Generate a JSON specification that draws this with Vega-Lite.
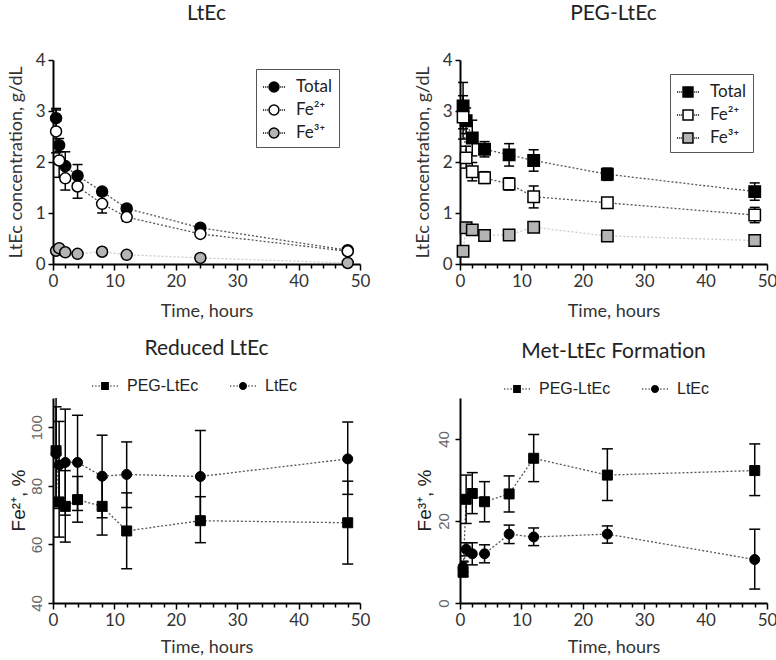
{
  "$schema": "https://vega.github.io/schema/vega-lite/v6.json",
  "padding": {"left": 6, "top": 3, "right": 5, "bottom": 5},
  "background": "white",
  "columns": 2,
  "spacing": {"row": 134, "column": 100},
  "bounds": "flush",
  "resolve": {
    "scale": {"fill": "independent", "shape": "independent", "x": "independent", "y": "independent"},
    "legend": {"fill": "independent", "shape": "independent"}
  },
  "datasets": {
    "ltec": [
      {"series": "Total", "t": 0.5, "v": 2.86, "lo": 2.66, "hi": 3.05},
      {"series": "Total", "t": 1, "v": 2.33, "lo": 2.20, "hi": 2.46},
      {"series": "Total", "t": 2, "v": 1.92, "lo": 1.72, "hi": 2.20},
      {"series": "Total", "t": 4, "v": 1.73, "lo": 1.51, "hi": 1.95},
      {"series": "Total", "t": 8, "v": 1.42, "lo": 1.36, "hi": 1.48},
      {"series": "Total", "t": 12, "v": 1.09, "lo": 1.04, "hi": 1.14},
      {"series": "Total", "t": 24, "v": 0.71, "lo": 0.68, "hi": 0.74},
      {"series": "Total", "t": 48, "v": 0.27, "lo": 0.24, "hi": 0.30},
      {"series": "Fe²⁺", "t": 0.5, "v": 2.60, "lo": 2.18, "hi": 3.02},
      {"series": "Fe²⁺", "t": 1, "v": 2.03, "lo": 1.70, "hi": 2.36},
      {"series": "Fe²⁺", "t": 2, "v": 1.68, "lo": 1.45, "hi": 1.91},
      {"series": "Fe²⁺", "t": 4, "v": 1.52, "lo": 1.29, "hi": 1.75},
      {"series": "Fe²⁺", "t": 8, "v": 1.18, "lo": 1.00, "hi": 1.36},
      {"series": "Fe²⁺", "t": 12, "v": 0.92, "lo": 0.84, "hi": 1.00},
      {"series": "Fe²⁺", "t": 24, "v": 0.59, "lo": 0.54, "hi": 0.64},
      {"series": "Fe²⁺", "t": 48, "v": 0.25, "lo": 0.23, "hi": 0.27},
      {"series": "Fe³⁺", "t": 0.5, "v": 0.26, "lo": 0.23, "hi": 0.29},
      {"series": "Fe³⁺", "t": 1, "v": 0.31, "lo": 0.27, "hi": 0.35},
      {"series": "Fe³⁺", "t": 2, "v": 0.23, "lo": 0.20, "hi": 0.26},
      {"series": "Fe³⁺", "t": 4, "v": 0.20, "lo": 0.17, "hi": 0.23},
      {"series": "Fe³⁺", "t": 8, "v": 0.24, "lo": 0.21, "hi": 0.27},
      {"series": "Fe³⁺", "t": 12, "v": 0.18, "lo": 0.15, "hi": 0.21},
      {"series": "Fe³⁺", "t": 24, "v": 0.12, "lo": 0.06, "hi": 0.18},
      {"series": "Fe³⁺", "t": 48, "v": 0.02, "lo": 0.01, "hi": 0.03}
    ],
    "peg": [
      {"series": "Total", "t": 0.5, "v": 3.10, "lo": 2.65, "hi": 3.56},
      {"series": "Total", "t": 1, "v": 2.81, "lo": 2.56, "hi": 3.06},
      {"series": "Total", "t": 2, "v": 2.47, "lo": 2.12, "hi": 2.82},
      {"series": "Total", "t": 4, "v": 2.25, "lo": 2.10, "hi": 2.40},
      {"series": "Total", "t": 8, "v": 2.14, "lo": 1.92, "hi": 2.36},
      {"series": "Total", "t": 12, "v": 2.03, "lo": 1.82, "hi": 2.24},
      {"series": "Total", "t": 24, "v": 1.76, "lo": 1.64, "hi": 1.88},
      {"series": "Total", "t": 48, "v": 1.42, "lo": 1.25, "hi": 1.59},
      {"series": "Fe²⁺", "t": 0.5, "v": 2.88, "lo": 2.45, "hi": 3.30},
      {"series": "Fe²⁺", "t": 1, "v": 2.08, "lo": 1.88, "hi": 2.31},
      {"series": "Fe²⁺", "t": 2, "v": 1.81, "lo": 1.63, "hi": 1.99},
      {"series": "Fe²⁺", "t": 4, "v": 1.69, "lo": 1.58, "hi": 1.81},
      {"series": "Fe²⁺", "t": 8, "v": 1.57, "lo": 1.45, "hi": 1.69},
      {"series": "Fe²⁺", "t": 12, "v": 1.32, "lo": 1.10, "hi": 1.53},
      {"series": "Fe²⁺", "t": 24, "v": 1.20, "lo": 1.13, "hi": 1.27},
      {"series": "Fe²⁺", "t": 48, "v": 0.96, "lo": 0.81, "hi": 1.11},
      {"series": "Fe³⁺", "t": 0.5, "v": 0.25, "lo": 0.20, "hi": 0.30},
      {"series": "Fe³⁺", "t": 1, "v": 0.71, "lo": 0.62, "hi": 0.81},
      {"series": "Fe³⁺", "t": 2, "v": 0.67, "lo": 0.62, "hi": 0.72},
      {"series": "Fe³⁺", "t": 4, "v": 0.56, "lo": 0.50, "hi": 0.62},
      {"series": "Fe³⁺", "t": 8, "v": 0.57, "lo": 0.53, "hi": 0.61},
      {"series": "Fe³⁺", "t": 12, "v": 0.72, "lo": 0.67, "hi": 0.77},
      {"series": "Fe³⁺", "t": 24, "v": 0.55, "lo": 0.50, "hi": 0.60},
      {"series": "Fe³⁺", "t": 48, "v": 0.46, "lo": 0.42, "hi": 0.50}
    ],
    "red": [
      {"series": "PEG-LtEc", "t": 0.5, "v": 92.0, "lo": 73.0, "hi": 112.0},
      {"series": "PEG-LtEc", "t": 1, "v": 74.5, "lo": 62.5, "hi": 86.5},
      {"series": "PEG-LtEc", "t": 2, "v": 73.0, "lo": 60.8, "hi": 85.2},
      {"series": "PEG-LtEc", "t": 4, "v": 75.3, "lo": 67.6, "hi": 83.2},
      {"series": "PEG-LtEc", "t": 8, "v": 73.0, "lo": 63.2, "hi": 82.8},
      {"series": "PEG-LtEc", "t": 12, "v": 64.6, "lo": 51.7, "hi": 77.6},
      {"series": "PEG-LtEc", "t": 24, "v": 68.1, "lo": 60.6, "hi": 76.3},
      {"series": "PEG-LtEc", "t": 48, "v": 67.4, "lo": 53.3, "hi": 81.6},
      {"series": "LtEc", "t": 0.5, "v": 91.0, "lo": 75.0, "hi": 107.0},
      {"series": "LtEc", "t": 1, "v": 87.1, "lo": 72.3, "hi": 102.0},
      {"series": "LtEc", "t": 2, "v": 88.0, "lo": 70.0, "hi": 106.2},
      {"series": "LtEc", "t": 4, "v": 88.0, "lo": 71.6, "hi": 104.1},
      {"series": "LtEc", "t": 8, "v": 83.3, "lo": 69.1, "hi": 97.3},
      {"series": "LtEc", "t": 12, "v": 83.9, "lo": 72.6, "hi": 95.0},
      {"series": "LtEc", "t": 24, "v": 83.2, "lo": 67.5, "hi": 98.9},
      {"series": "LtEc", "t": 48, "v": 89.2, "lo": 77.1, "hi": 101.8}
    ],
    "met": [
      {"series": "PEG-LtEc", "t": 0.5, "v": 7.5, "lo": 6.5, "hi": 10.0},
      {"series": "PEG-LtEc", "t": 1, "v": 25.3, "lo": 19.4, "hi": 31.2},
      {"series": "PEG-LtEc", "t": 2, "v": 26.7, "lo": 21.8, "hi": 31.8},
      {"series": "PEG-LtEc", "t": 4, "v": 24.7, "lo": 19.8, "hi": 29.6},
      {"series": "PEG-LtEc", "t": 8, "v": 26.6, "lo": 22.2, "hi": 31.0},
      {"series": "PEG-LtEc", "t": 12, "v": 35.3, "lo": 29.6, "hi": 41.1},
      {"series": "PEG-LtEc", "t": 24, "v": 31.2, "lo": 25.0, "hi": 37.6},
      {"series": "PEG-LtEc", "t": 48, "v": 32.3, "lo": 26.2, "hi": 38.8},
      {"series": "LtEc", "t": 0.5, "v": 8.8, "lo": 7.5, "hi": 10.2},
      {"series": "LtEc", "t": 1, "v": 13.1, "lo": 11.5, "hi": 14.7},
      {"series": "LtEc", "t": 2, "v": 12.0, "lo": 9.3, "hi": 14.7},
      {"series": "LtEc", "t": 4, "v": 12.0, "lo": 9.8, "hi": 14.2},
      {"series": "LtEc", "t": 8, "v": 16.8, "lo": 14.5, "hi": 19.0},
      {"series": "LtEc", "t": 12, "v": 16.1, "lo": 14.0, "hi": 18.3},
      {"series": "LtEc", "t": 24, "v": 16.8, "lo": 14.6, "hi": 18.8},
      {"series": "LtEc", "t": 48, "v": 10.6, "lo": 3.4, "hi": 18.0}
    ]
  },
  "concat": [
    {
      "width": 307, "height": 204,
      "title": {"text": "LtEc", "offset": 27},
      "data": {"name": "ltec"},
      "encoding": {
        "x": {"field": "t", "type": "quantitative", "scale": {"domain": [0, 50], "nice": false},
          "axis": {"title": "Time, hours", "values": [0,2,4,6,8,10,12,14,16,18,20,22,24,26,28,30,32,34,36,38,40,42,44,46,48,50], "labelExpr": "datum.value % 10 === 0 ? datum.label : ''", "labelOverlap": false, "labelFlush": false, "tickSize": {"condition": {"test": "datum.value % 10 === 0", "value": 6}, "value": 4}, "titleY": 47, "titleBaseline": "middle", "labelPadding": 3}}
      },
      "layer": [
        {
          "transform": [{"filter": "datum.series !== 'Fe³⁺'"}],
          "mark": {"type": "line", "strokeDash": [2, 2], "strokeWidth": 1.3, "color": "#555555"},
          "encoding": {
            "y": {"field": "v", "type": "quantitative", "scale": {"domain": [0, 4], "nice": false},
              "axis": {"title": "LtEc concentration, g/dL", "values": [0,1,2,3,4], "format": "d", "tickSize": 5, "labelPadding": 3, "titleX": -37, "titleY": 102, "titleBaseline": "middle", "titleAlign": "center"}},
            "detail": {"field": "series", "type": "nominal"}
          }
        },
        {
          "transform": [{"filter": "datum.series === 'Fe³⁺'"}],
          "mark": {"type": "line", "strokeDash": [2, 2], "strokeWidth": 1.3, "color": "#cccccc"},
          "encoding": {
            "y": {"field": "v", "type": "quantitative", "axis": {"title": "LtEc concentration, g/dL", "values": [0,1,2,3,4], "format": "d", "tickSize": 5, "labelPadding": 3, "titleX": -37, "titleY": 102, "titleBaseline": "middle", "titleAlign": "center"}}
          }
        },
        {
          "mark": {"type": "rule", "color": "black", "strokeWidth": 1.5},
          "encoding": {"y": {"field": "lo", "type": "quantitative", "axis": {"title": "LtEc concentration, g/dL", "values": [0,1,2,3,4], "format": "d", "tickSize": 5, "labelPadding": 3, "titleX": -37, "titleY": 102, "titleBaseline": "middle", "titleAlign": "center"}}, "y2": {"field": "hi"}}
        },
        {
          "mark": {"type": "tick", "orient": "horizontal", "color": "black", "thickness": 1.5, "size": 10, "opacity": 1},
          "encoding": {"y": {"field": "lo", "type": "quantitative", "axis": {"title": "LtEc concentration, g/dL", "values": [0,1,2,3,4], "format": "d", "tickSize": 5, "labelPadding": 3, "titleX": -37, "titleY": 102, "titleBaseline": "middle", "titleAlign": "center"}}}
        },
        {
          "mark": {"type": "tick", "orient": "horizontal", "color": "black", "thickness": 1.5, "size": 10, "opacity": 1},
          "encoding": {"y": {"field": "hi", "type": "quantitative", "axis": {"title": "LtEc concentration, g/dL", "values": [0,1,2,3,4], "format": "d", "tickSize": 5, "labelPadding": 3, "titleX": -37, "titleY": 102, "titleBaseline": "middle", "titleAlign": "center"}}}
        },
        {
          "mark": {"type": "point", "shape": "circle", "filled": true, "size": 121, "stroke": "black", "strokeWidth": 1.5, "opacity": 1},
          "encoding": {
            "y": {"field": "v", "type": "quantitative", "axis": {"title": "LtEc concentration, g/dL", "values": [0,1,2,3,4], "format": "d", "tickSize": 5, "labelPadding": 3, "titleX": -37, "titleY": 102, "titleBaseline": "middle", "titleAlign": "center"}},
            "fill": {"field": "series", "type": "nominal", "scale": {"domain": ["Total", "Fe²⁺", "Fe³⁺"], "range": ["black", "white", "#b4b4b4"]},
              "legend": {"title": null, "orient": "none", "legendX": 203, "legendY": 9, "symbolType": "M 0.45 0 C 0.45 0.2485 0.2485 0.45 0 0.45 C -0.2485 0.45 -0.45 0.2485 -0.45 0 C -0.45 -0.2485 -0.2485 -0.45 0 -0.45 C 0.2485 -0.45 0.45 -0.2485 0.45 0 Z M -1 0 L -0.9 0 M -0.8 0 L -0.7 0 M -0.62 0 L -0.55 0 M 0.55 0 L 0.62 0 M 0.7 0 L 0.8 0 M 0.9 0 L 1 0", "symbolSize": 484, "symbolStrokeColor": "black", "symbolStrokeWidth": 1.5, "strokeColor": "#555555", "padding": 6, "rowPadding": 3, "labelFont": "Lato", "labelFontSize": 17, "labelColor": "#222222", "labelOffset": 10}}
          }
        }
      ]
    },
    {
      "width": 307, "height": 204,
      "title": {"text": "PEG-LtEc", "offset": 27},
      "data": {"name": "peg"},
      "encoding": {
        "x": {"field": "t", "type": "quantitative", "scale": {"domain": [0, 50], "nice": false},
          "axis": {"title": "Time, hours", "values": [0,2,4,6,8,10,12,14,16,18,20,22,24,26,28,30,32,34,36,38,40,42,44,46,48,50], "labelExpr": "datum.value % 10 === 0 ? datum.label : ''", "labelOverlap": false, "labelFlush": false, "tickSize": {"condition": {"test": "datum.value % 10 === 0", "value": 6}, "value": 4}, "titleY": 47, "titleBaseline": "middle", "labelPadding": 3}}
      },
      "layer": [
        {
          "transform": [{"filter": "datum.series !== 'Fe³⁺'"}],
          "mark": {"type": "line", "strokeDash": [2, 2], "strokeWidth": 1.3, "color": "#555555"},
          "encoding": {
            "y": {"field": "v", "type": "quantitative", "scale": {"domain": [0, 4], "nice": false},
              "axis": {"title": "LtEc concentration, g/dL", "values": [0,1,2,3,4], "format": "d", "tickSize": 5, "labelPadding": 3, "titleX": -37, "titleY": 102, "titleBaseline": "middle", "titleAlign": "center"}},
            "detail": {"field": "series", "type": "nominal"}
          }
        },
        {
          "transform": [{"filter": "datum.series === 'Fe³⁺'"}],
          "mark": {"type": "line", "strokeDash": [2, 2], "strokeWidth": 1.3, "color": "#cccccc"},
          "encoding": {
            "y": {"field": "v", "type": "quantitative", "axis": {"title": "LtEc concentration, g/dL", "values": [0,1,2,3,4], "format": "d", "tickSize": 5, "labelPadding": 3, "titleX": -37, "titleY": 102, "titleBaseline": "middle", "titleAlign": "center"}}
          }
        },
        {
          "mark": {"type": "rule", "color": "black", "strokeWidth": 1.5},
          "encoding": {"y": {"field": "lo", "type": "quantitative", "axis": {"title": "LtEc concentration, g/dL", "values": [0,1,2,3,4], "format": "d", "tickSize": 5, "labelPadding": 3, "titleX": -37, "titleY": 102, "titleBaseline": "middle", "titleAlign": "center"}}, "y2": {"field": "hi"}}
        },
        {
          "mark": {"type": "tick", "orient": "horizontal", "color": "black", "thickness": 1.5, "size": 10, "opacity": 1},
          "encoding": {"y": {"field": "lo", "type": "quantitative", "axis": {"title": "LtEc concentration, g/dL", "values": [0,1,2,3,4], "format": "d", "tickSize": 5, "labelPadding": 3, "titleX": -37, "titleY": 102, "titleBaseline": "middle", "titleAlign": "center"}}}
        },
        {
          "mark": {"type": "tick", "orient": "horizontal", "color": "black", "thickness": 1.5, "size": 10, "opacity": 1},
          "encoding": {"y": {"field": "hi", "type": "quantitative", "axis": {"title": "LtEc concentration, g/dL", "values": [0,1,2,3,4], "format": "d", "tickSize": 5, "labelPadding": 3, "titleX": -37, "titleY": 102, "titleBaseline": "middle", "titleAlign": "center"}}}
        },
        {
          "mark": {"type": "point", "shape": "square", "filled": true, "size": 130, "stroke": "black", "strokeWidth": 1.5, "opacity": 1},
          "encoding": {
            "y": {"field": "v", "type": "quantitative", "axis": {"title": "LtEc concentration, g/dL", "values": [0,1,2,3,4], "format": "d", "tickSize": 5, "labelPadding": 3, "titleX": -37, "titleY": 102, "titleBaseline": "middle", "titleAlign": "center"}},
            "fill": {"field": "series", "type": "nominal", "scale": {"domain": ["Total", "Fe²⁺", "Fe³⁺"], "range": ["black", "white", "#b4b4b4"]},
              "legend": {"title": null, "orient": "none", "legendX": 210, "legendY": 14, "symbolType": "M -0.45 -0.45 L 0.45 -0.45 L 0.45 0.45 L -0.45 0.45 Z M -1 0 L -0.9 0 M -0.8 0 L -0.7 0 M -0.62 0 L -0.55 0 M 0.55 0 L 0.62 0 M 0.7 0 L 0.8 0 M 0.9 0 L 1 0", "symbolSize": 484, "symbolStrokeColor": "black", "symbolStrokeWidth": 1.5, "strokeColor": "#555555", "padding": 6, "rowPadding": 3, "labelFont": "Lato", "labelFontSize": 17, "labelColor": "#222222", "labelOffset": 10}}
          }
        }
      ]
    },
    {
      "width": 307, "height": 205,
      "title": {"text": "Reduced LtEc", "offset": 13},
      "data": {"name": "red"},
      "encoding": {
        "x": {"field": "t", "type": "quantitative", "scale": {"domain": [0, 50], "nice": false},
          "axis": {"title": "Time, hours", "values": [0,2,4,6,8,10,12,14,16,18,20,22,24,26,28,30,32,34,36,38,40,42,44,46,48,50], "labelExpr": "datum.value % 10 === 0 ? datum.label : ''", "labelOverlap": false, "labelFlush": false, "tickSize": {"condition": {"test": "datum.value % 10 === 0", "value": 6}, "value": 4}, "titleY": 44, "titleBaseline": "middle", "labelPadding": 3}}
      },
      "layer": [
        {
          "mark": {"type": "line", "strokeDash": [2, 2], "strokeWidth": 1.3, "color": "#555555"},
          "encoding": {
            "y": {"field": "v", "type": "quantitative", "scale": {"domain": [40, 110], "nice": false},
              "axis": {"title": "Fe²⁺, %", "values": [40,60,80,100], "tickSize": 5, "labelAngle": -90, "labelAlign": "center", "labelBaseline": "bottom", "labelFont": "Liberation Sans", "labelFontSize": 15, "labelColor": "#666666", "labelPadding": 4, "titleFont": "Liberation Sans", "titleFontSize": 19, "titleColor": "#222222", "titleX": -35, "titleY": 102, "titleBaseline": "middle", "titleAlign": "center"}},
            "detail": {"field": "series", "type": "nominal"}
          }
        },
        {
          "mark": {"type": "rule", "color": "black", "strokeWidth": 1.5, "clip": true},
          "encoding": {"y": {"field": "lo", "type": "quantitative", "axis": {"title": "Fe²⁺, %", "values": [40,60,80,100], "tickSize": 5, "labelAngle": -90, "labelAlign": "center", "labelBaseline": "bottom", "labelFont": "Liberation Sans", "labelFontSize": 15, "labelColor": "#666666", "labelPadding": 4, "titleFont": "Liberation Sans", "titleFontSize": 19, "titleColor": "#222222", "titleX": -35, "titleY": 102, "titleBaseline": "middle", "titleAlign": "center"}}, "y2": {"field": "hi"}}
        },
        {
          "mark": {"type": "tick", "orient": "horizontal", "color": "black", "thickness": 1.5, "size": 11, "opacity": 1, "clip": true},
          "encoding": {"y": {"field": "lo", "type": "quantitative", "axis": {"title": "Fe²⁺, %", "values": [40,60,80,100], "tickSize": 5, "labelAngle": -90, "labelAlign": "center", "labelBaseline": "bottom", "labelFont": "Liberation Sans", "labelFontSize": 15, "labelColor": "#666666", "labelPadding": 4, "titleFont": "Liberation Sans", "titleFontSize": 19, "titleColor": "#222222", "titleX": -35, "titleY": 102, "titleBaseline": "middle", "titleAlign": "center"}}}
        },
        {
          "mark": {"type": "tick", "orient": "horizontal", "color": "black", "thickness": 1.5, "size": 11, "opacity": 1, "clip": true},
          "encoding": {"y": {"field": "hi", "type": "quantitative", "axis": {"title": "Fe²⁺, %", "values": [40,60,80,100], "tickSize": 5, "labelAngle": -90, "labelAlign": "center", "labelBaseline": "bottom", "labelFont": "Liberation Sans", "labelFontSize": 15, "labelColor": "#666666", "labelPadding": 4, "titleFont": "Liberation Sans", "titleFontSize": 19, "titleColor": "#222222", "titleX": -35, "titleY": 102, "titleBaseline": "middle", "titleAlign": "center"}}}
        },
        {
          "transform": [{"filter": "datum.series === 'PEG-LtEc'"}],
          "mark": {"type": "point", "shape": "square", "filled": true, "size": 100, "fill": "black", "stroke": "black", "strokeWidth": 1, "opacity": 1},
          "encoding": {
            "y": {"field": "v", "type": "quantitative", "axis": {"title": "Fe²⁺, %", "values": [40,60,80,100], "tickSize": 5, "labelAngle": -90, "labelAlign": "center", "labelBaseline": "bottom", "labelFont": "Liberation Sans", "labelFontSize": 15, "labelColor": "#666666", "labelPadding": 4, "titleFont": "Liberation Sans", "titleFontSize": 19, "titleColor": "#222222", "titleX": -35, "titleY": 102, "titleBaseline": "middle", "titleAlign": "center"}}
          }
        },
        {
          "transform": [{"filter": "datum.series === 'LtEc'"}],
          "mark": {"type": "point", "shape": "circle", "filled": true, "size": 100, "fill": "black", "stroke": "black", "strokeWidth": 1, "opacity": 1},
          "encoding": {
            "y": {"field": "v", "type": "quantitative", "axis": {"title": "Fe²⁺, %", "values": [40,60,80,100], "tickSize": 5, "labelAngle": -90, "labelAlign": "center", "labelBaseline": "bottom", "labelFont": "Liberation Sans", "labelFontSize": 15, "labelColor": "#666666", "labelPadding": 4, "titleFont": "Liberation Sans", "titleFontSize": 19, "titleColor": "#222222", "titleX": -35, "titleY": 102, "titleBaseline": "middle", "titleAlign": "center"}}
          }
        },
        {
          "mark": {"type": "point", "filled": true, "size": 100, "fill": "black", "stroke": "black", "strokeWidth": 1.3, "opacity": 0},
          "encoding": {
            "y": {"field": "v", "type": "quantitative", "axis": {"title": "Fe²⁺, %", "values": [40,60,80,100], "tickSize": 5, "labelAngle": -90, "labelAlign": "center", "labelBaseline": "bottom", "labelFont": "Liberation Sans", "labelFontSize": 15, "labelColor": "#666666", "labelPadding": 4, "titleFont": "Liberation Sans", "titleFontSize": 19, "titleColor": "#222222", "titleX": -35, "titleY": 102, "titleBaseline": "middle", "titleAlign": "center"}},
            "shape": {"field": "series", "type": "nominal", "scale": {"domain": ["PEG-LtEc", "LtEc"], "range": ["M -0.3 -0.3 L 0.3 -0.3 L 0.3 0.3 L -0.3 0.3 Z M -1 -0.045 L -0.9 -0.045 L -0.9 0.045 L -1 0.045 Z M -0.75 -0.045 L -0.65 -0.045 L -0.65 0.045 L -0.75 0.045 Z M -0.5 -0.045 L -0.4 -0.045 L -0.4 0.045 L -0.5 0.045 Z M 0.4 -0.045 L 0.5 -0.045 L 0.5 0.045 L 0.4 0.045 Z M 0.65 -0.045 L 0.75 -0.045 L 0.75 0.045 L 0.65 0.045 Z M 0.9 -0.045 L 1 -0.045 L 1 0.045 L 0.9 0.045 Z", "M 0.31 0 C 0.31 0.171 0.171 0.31 0 0.31 C -0.171 0.31 -0.31 0.171 -0.31 0 C -0.31 -0.171 -0.171 -0.31 0 -0.31 C 0.171 -0.31 0.31 -0.171 0.31 0 Z M -1 -0.045 L -0.9 -0.045 L -0.9 0.045 L -1 0.045 Z M -0.75 -0.045 L -0.65 -0.045 L -0.65 0.045 L -0.75 0.045 Z M -0.5 -0.045 L -0.4 -0.045 L -0.4 0.045 L -0.5 0.045 Z M 0.4 -0.045 L 0.5 -0.045 L 0.5 0.045 L 0.4 0.045 Z M 0.65 -0.045 L 0.75 -0.045 L 0.75 0.045 L 0.65 0.045 Z M 0.9 -0.045 L 1 -0.045 L 1 0.045 L 0.9 0.045 Z"]},
              "legend": {"title": null, "orient": "none", "direction": "horizontal", "legendX": 38, "legendY": -26, "symbolSize": 676, "symbolOpacity": 1, "symbolFillColor": "black", "symbolStrokeColor": "#333333", "symbolStrokeWidth": 1.3, "padding": 0, "labelFont": "Liberation Sans", "labelFontSize": 16, "labelColor": "#222222", "labelOffset": 8, "columnPadding": 28}}
          }
        }
      ]
    },
    {
      "width": 307, "height": 205,
      "title": {"text": "Met-LtEc Formation", "offset": 13},
      "data": {"name": "met"},
      "encoding": {
        "x": {"field": "t", "type": "quantitative", "scale": {"domain": [0, 50], "nice": false},
          "axis": {"title": "Time, hours", "values": [0,2,4,6,8,10,12,14,16,18,20,22,24,26,28,30,32,34,36,38,40,42,44,46,48,50], "labelExpr": "datum.value % 10 === 0 ? datum.label : ''", "labelOverlap": false, "labelFlush": false, "tickSize": {"condition": {"test": "datum.value % 10 === 0", "value": 6}, "value": 4}, "titleY": 44, "titleBaseline": "middle", "labelPadding": 3}}
      },
      "layer": [
        {
          "mark": {"type": "line", "strokeDash": [2, 2], "strokeWidth": 1.3, "color": "#555555"},
          "encoding": {
            "y": {"field": "v", "type": "quantitative", "scale": {"domain": [0, 50], "nice": false},
              "axis": {"title": "Fe³⁺, %", "values": [0,20,40], "tickSize": 5, "labelAngle": -90, "labelAlign": "center", "labelBaseline": "bottom", "labelFont": "Liberation Sans", "labelFontSize": 15, "labelColor": "#666666", "labelPadding": 4, "titleFont": "Liberation Sans", "titleFontSize": 19, "titleColor": "#222222", "titleX": -36, "titleY": 102, "titleBaseline": "middle", "titleAlign": "center"}},
            "detail": {"field": "series", "type": "nominal"}
          }
        },
        {
          "mark": {"type": "rule", "color": "black", "strokeWidth": 1.5, "clip": true},
          "encoding": {"y": {"field": "lo", "type": "quantitative", "axis": {"title": "Fe³⁺, %", "values": [0,20,40], "tickSize": 5, "labelAngle": -90, "labelAlign": "center", "labelBaseline": "bottom", "labelFont": "Liberation Sans", "labelFontSize": 15, "labelColor": "#666666", "labelPadding": 4, "titleFont": "Liberation Sans", "titleFontSize": 19, "titleColor": "#222222", "titleX": -36, "titleY": 102, "titleBaseline": "middle", "titleAlign": "center"}}, "y2": {"field": "hi"}}
        },
        {
          "mark": {"type": "tick", "orient": "horizontal", "color": "black", "thickness": 1.5, "size": 11, "opacity": 1, "clip": true},
          "encoding": {"y": {"field": "lo", "type": "quantitative", "axis": {"title": "Fe³⁺, %", "values": [0,20,40], "tickSize": 5, "labelAngle": -90, "labelAlign": "center", "labelBaseline": "bottom", "labelFont": "Liberation Sans", "labelFontSize": 15, "labelColor": "#666666", "labelPadding": 4, "titleFont": "Liberation Sans", "titleFontSize": 19, "titleColor": "#222222", "titleX": -36, "titleY": 102, "titleBaseline": "middle", "titleAlign": "center"}}}
        },
        {
          "mark": {"type": "tick", "orient": "horizontal", "color": "black", "thickness": 1.5, "size": 11, "opacity": 1, "clip": true},
          "encoding": {"y": {"field": "hi", "type": "quantitative", "axis": {"title": "Fe³⁺, %", "values": [0,20,40], "tickSize": 5, "labelAngle": -90, "labelAlign": "center", "labelBaseline": "bottom", "labelFont": "Liberation Sans", "labelFontSize": 15, "labelColor": "#666666", "labelPadding": 4, "titleFont": "Liberation Sans", "titleFontSize": 19, "titleColor": "#222222", "titleX": -36, "titleY": 102, "titleBaseline": "middle", "titleAlign": "center"}}}
        },
        {
          "transform": [{"filter": "datum.series === 'PEG-LtEc'"}],
          "mark": {"type": "point", "shape": "square", "filled": true, "size": 100, "fill": "black", "stroke": "black", "strokeWidth": 1, "opacity": 1},
          "encoding": {
            "y": {"field": "v", "type": "quantitative", "axis": {"title": "Fe³⁺, %", "values": [0,20,40], "tickSize": 5, "labelAngle": -90, "labelAlign": "center", "labelBaseline": "bottom", "labelFont": "Liberation Sans", "labelFontSize": 15, "labelColor": "#666666", "labelPadding": 4, "titleFont": "Liberation Sans", "titleFontSize": 19, "titleColor": "#222222", "titleX": -36, "titleY": 102, "titleBaseline": "middle", "titleAlign": "center"}}
          }
        },
        {
          "transform": [{"filter": "datum.series === 'LtEc'"}],
          "mark": {"type": "point", "shape": "circle", "filled": true, "size": 100, "fill": "black", "stroke": "black", "strokeWidth": 1, "opacity": 1},
          "encoding": {
            "y": {"field": "v", "type": "quantitative", "axis": {"title": "Fe³⁺, %", "values": [0,20,40], "tickSize": 5, "labelAngle": -90, "labelAlign": "center", "labelBaseline": "bottom", "labelFont": "Liberation Sans", "labelFontSize": 15, "labelColor": "#666666", "labelPadding": 4, "titleFont": "Liberation Sans", "titleFontSize": 19, "titleColor": "#222222", "titleX": -36, "titleY": 102, "titleBaseline": "middle", "titleAlign": "center"}}
          }
        },
        {
          "mark": {"type": "point", "filled": true, "size": 100, "fill": "black", "stroke": "black", "strokeWidth": 1.3, "opacity": 0},
          "encoding": {
            "y": {"field": "v", "type": "quantitative", "axis": {"title": "Fe³⁺, %", "values": [0,20,40], "tickSize": 5, "labelAngle": -90, "labelAlign": "center", "labelBaseline": "bottom", "labelFont": "Liberation Sans", "labelFontSize": 15, "labelColor": "#666666", "labelPadding": 4, "titleFont": "Liberation Sans", "titleFontSize": 19, "titleColor": "#222222", "titleX": -36, "titleY": 102, "titleBaseline": "middle", "titleAlign": "center"}},
            "shape": {"field": "series", "type": "nominal", "scale": {"domain": ["PEG-LtEc", "LtEc"], "range": ["M -0.3 -0.3 L 0.3 -0.3 L 0.3 0.3 L -0.3 0.3 Z M -1 -0.045 L -0.9 -0.045 L -0.9 0.045 L -1 0.045 Z M -0.75 -0.045 L -0.65 -0.045 L -0.65 0.045 L -0.75 0.045 Z M -0.5 -0.045 L -0.4 -0.045 L -0.4 0.045 L -0.5 0.045 Z M 0.4 -0.045 L 0.5 -0.045 L 0.5 0.045 L 0.4 0.045 Z M 0.65 -0.045 L 0.75 -0.045 L 0.75 0.045 L 0.65 0.045 Z M 0.9 -0.045 L 1 -0.045 L 1 0.045 L 0.9 0.045 Z", "M 0.31 0 C 0.31 0.171 0.171 0.31 0 0.31 C -0.171 0.31 -0.31 0.171 -0.31 0 C -0.31 -0.171 -0.171 -0.31 0 -0.31 C 0.171 -0.31 0.31 -0.171 0.31 0 Z M -1 -0.045 L -0.9 -0.045 L -0.9 0.045 L -1 0.045 Z M -0.75 -0.045 L -0.65 -0.045 L -0.65 0.045 L -0.75 0.045 Z M -0.5 -0.045 L -0.4 -0.045 L -0.4 0.045 L -0.5 0.045 Z M 0.4 -0.045 L 0.5 -0.045 L 0.5 0.045 L 0.4 0.045 Z M 0.65 -0.045 L 0.75 -0.045 L 0.75 0.045 L 0.65 0.045 Z M 0.9 -0.045 L 1 -0.045 L 1 0.045 L 0.9 0.045 Z"]},
              "legend": {"title": null, "orient": "none", "direction": "horizontal", "legendX": 43, "legendY": -23, "symbolSize": 676, "symbolOpacity": 1, "symbolFillColor": "black", "symbolStrokeColor": "#333333", "symbolStrokeWidth": 1.3, "padding": 0, "labelFont": "Liberation Sans", "labelFontSize": 16, "labelColor": "#222222", "labelOffset": 8, "columnPadding": 28}}
          }
        }
      ]
    }
  ],
  "config": {
    "view": {"stroke": null},
    "axis": {"grid": false, "domainColor": "black", "domainWidth": 2, "tickColor": "black", "tickWidth": 1.5, "labelFont": "Lato", "labelFontSize": 17, "labelColor": "#333333", "titleFont": "Lato", "titleFontSize": 18, "titleFontWeight": "normal", "titleColor": "#333333"},
    "title": {"font": "Lato", "fontSize": 21, "fontWeight": "normal", "color": "#222222", "anchor": "middle", "frame": "group"}
  }
}
